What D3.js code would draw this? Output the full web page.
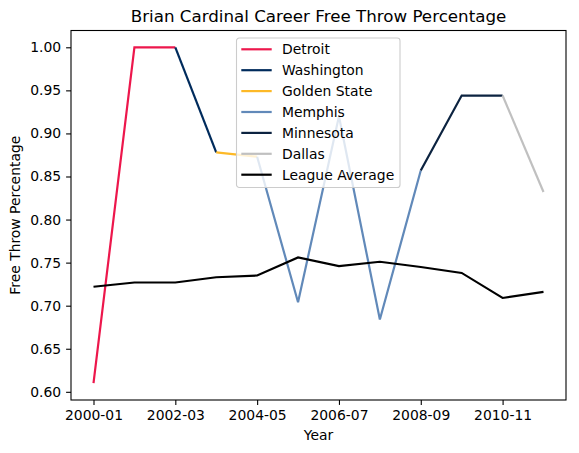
<!DOCTYPE html>
<html>
<head>
<meta charset="utf-8">
<script src="https://cdn.jsdelivr.net/npm/d3@7"></script>
<style>
  body { margin: 0; background: #fff; }
  svg { display: block; font-family: "DejaVu Sans", sans-serif; }
</style>
</head>
<body>
<div id="chart"></div>
<script>
// seasons and values
const seasons = ["2000-01", "2001-02", "2002-03", "2003-04", "2004-05", "2005-06",
                 "2006-07", "2007-08", "2008-09", "2009-10", "2010-11", "2011-12"];
const seasonTeam = ["Detroit", "Detroit", "Washington", "Golden State", "Memphis", "Memphis",
                    "Memphis", "Memphis", "Minnesota", "Minnesota", "Dallas", "Dallas"];
const ftPct = [0.610, 1.000, 1.000, 0.878, 0.873, 0.704, 0.920, 0.684, 0.857, 0.944, 0.944, 0.832];
const leagueAvg = [0.722, 0.727, 0.727, 0.733, 0.735, 0.756, 0.746, 0.751, 0.745, 0.738, 0.709, 0.716];

const teams = ["Detroit", "Washington", "Golden State", "Memphis", "Minnesota", "Dallas"];
const teamColors = ["#ED174C", "#002B5C", "#FDB927", "#6189B9", "#0C2340", "#C0C0C0"];
const xTickLabels = ["2000-01", "2002-03", "2004-05", "2006-07", "2008-09", "2010-11"];
const yTicks = [0.60, 0.65, 0.70, 0.75, 0.80, 0.85, 0.90, 0.95, 1.00];

const W = 579, H = 453;
const axLeft = 71, axRight = 566, axTop = 30.5, axBottom = 400;

const svg = d3.select("#chart").append("svg")
    .attr("width", W)
    .attr("height", H);

const x = d3.scaleLinear().domain([-0.55, seasons.length - 1 + 0.55]).range([axLeft, axRight]);
const y = d3.scaleLinear().domain([0.5905, 1.0195]).range([axBottom, axTop]);

const line = d3.line()
    .x(d => x(d.i))
    .y(d => y(d.v));

// each team line runs over its seasons and on to the next season's point
teams.forEach((t, k) => {
    const idx = seasons.map((s, i) => i).filter(i => seasonTeam[i] === t);
    const last = idx[idx.length - 1];
    if (last + 1 < seasons.length) idx.push(last + 1);
    svg.append("path")
        .datum(idx.map(i => ({ i: i, v: ftPct[i] })))
        .attr("fill", "none")
        .attr("stroke", teamColors[k])
        .attr("stroke-width", 2.2)
        .attr("d", line);
});

svg.append("path")
    .datum(leagueAvg.map((v, i) => ({ i: i, v: v })))
    .attr("fill", "none")
    .attr("stroke", "#000")
    .attr("stroke-width", 2.1)
    .attr("d", line);

// axes
const xAxis = d3.axisBottom(x)
    .tickValues(xTickLabels.map(l => seasons.indexOf(l)))
    .tickFormat(i => seasons[i])
    .tickSize(4.9)
    .tickPadding(4.9);
const yAxis = d3.axisLeft(y)
    .tickValues(yTicks)
    .tickFormat(d3.format(".2f"))
    .tickSize(4.9)
    .tickPadding(4.9);

const gx = svg.append("g").attr("transform", `translate(0,${axBottom})`).call(xAxis);
const gy = svg.append("g").attr("transform", `translate(${axLeft},0)`).call(yAxis);
[gx, gy].forEach(g => {
    g.select(".domain").remove();
    g.selectAll(".tick line").attr("stroke", "#000").attr("stroke-width", 1.1);
    g.selectAll(".tick text").attr("fill", "#000").attr("font-size", 13.9)
        .attr("font-family", "DejaVu Sans, sans-serif");
});

svg.append("rect")
    .attr("x", axLeft).attr("y", axTop)
    .attr("width", axRight - axLeft).attr("height", axBottom - axTop)
    .attr("fill", "none").attr("stroke", "#000").attr("stroke-width", 1.1);

svg.append("text")
    .attr("x", (axLeft + axRight) / 2).attr("y", 22.2)
    .attr("text-anchor", "middle").attr("font-size", 16.7)
    .text("Brian Cardinal Career Free Throw Percentage");

svg.append("text")
    .attr("x", (axLeft + axRight) / 2).attr("y", 440)
    .attr("text-anchor", "middle").attr("font-size", 13.9)
    .text("Year");

svg.append("text")
    .attr("transform", `translate(20,${(axTop + axBottom) / 2}) rotate(-90)`)
    .attr("text-anchor", "middle").attr("font-size", 13.9)
    .text("Free Throw Percentage");

// legend
const legendItems = teams.map((t, k) => ({ name: t, color: teamColors[k] }))
    .concat([{ name: "League Average", color: "#000" }]);
const lg = svg.append("g").attr("transform", "translate(236.5,38)");
lg.append("rect")
    .attr("width", 163.5).attr("height", 149.5)
    .attr("rx", 2.8)
    .attr("fill", "#fff").attr("fill-opacity", 0.8)
    .attr("stroke", "#ccc").attr("stroke-width", 1.1);
const rows = lg.selectAll("g.item").data(legendItems).enter().append("g")
    .attr("transform", (d, i) => `translate(0,${11.3 + i * 20.9})`);
rows.append("line")
    .attr("x1", 4.8).attr("x2", 35.2)
    .attr("stroke", d => d.color).attr("stroke-width", 2.2);
rows.append("text")
    .attr("x", 45.5).attr("y", 5)
    .attr("font-size", 13.9)
    .text(d => d.name);
</script>
</body>
</html>
